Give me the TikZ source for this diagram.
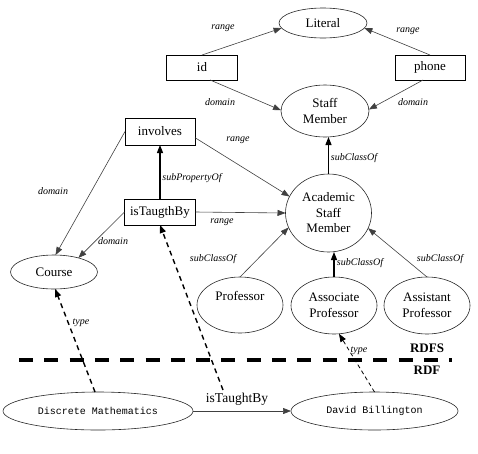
\documentclass[tikz,border=0pt]{standalone}
\usepackage{fontspec}
\setmainfont{Liberation Serif}
\setmonofont{Liberation Mono}
\newfontfamily\tnr{Liberation Serif}
\newfontfamily\cour{Liberation Mono}
\usetikzlibrary{shapes.geometric,arrows.meta}
\begin{document}
\begin{tikzpicture}[x=1pt,y=-1pt,
  every node/.style={inner sep=0pt, outer sep=0pt},
  cls/.style={ellipse, draw=black!85, line width=0.6pt, font=\tnr\fontsize{13}{15.5}\selectfont, align=center},
  prop/.style={rectangle, draw=black, line width=0.7pt, font=\tnr\fontsize{13}{15.5}\selectfont},
  inst/.style={ellipse, draw=black!85, line width=0.6pt, font=\cour\fontsize{10}{12}\selectfont},
  lab/.style={font=\tnr\itshape\fontsize{10}{12}\selectfont},
  tip/.style={-{Triangle[length=8pt,width=6pt]}},
  rel/.style={tip, draw=black!75, line width=0.6pt},
  relb/.style={tip, draw=black, line width=1.2pt},
  typ/.style={tip, draw=black, dash pattern=on 5pt off 4pt, line width=1.4pt},
  typthin/.style={tip, draw=black, dash pattern=on 4pt off 3pt, line width=0.8pt},
  sep/.style={draw=black, line width=4pt, dash pattern=on 14pt off 11.3pt},
  layer/.style={font=\tnr\bfseries\fontsize{13}{15}\selectfont}
]
\useasboundingbox (0,0) rectangle (478,453);

% classes
\node[cls, minimum width=88pt, minimum height=30pt] (lit) at (323,23) {Literal};
\node[cls, minimum width=88pt, minimum height=52pt] (staff) at (325,111) {Staff\\Member};
\node[cls, minimum width=86pt, minimum height=78pt] (acad) at (328.5,213) {Academic\\Staff\\Member};
\node[cls, minimum width=87pt, minimum height=34pt] (course) at (54,272) {Course};
\node[cls, minimum width=86pt, minimum height=56pt, text height=9pt, text depth=18pt] (prof) at (240,305) {Professor};
\node[cls, minimum width=86pt, minimum height=57pt] (assoc) at (334,305.5) {Associate\\Professor};
\node[cls, minimum width=86pt, minimum height=57pt] (assist) at (427,305.5) {Assistant\\Professor};

% properties
\node[prop, minimum width=71pt, minimum height=25pt] (id) at (202,67.5) {id};
\node[prop, minimum width=70pt, minimum height=25pt] (phone) at (430,67.5) {phone};
\node[prop, minimum width=70pt, minimum height=27pt] (involves) at (160,131.5) {involves};
\node[prop, minimum width=71pt, minimum height=26pt] (ist) at (160,212) {isTaugthBy};

% instances
\node[inst, minimum width=190pt, minimum height=38pt] (disc) at (98,411) {Discrete Mathematics};
\node[inst, minimum width=167pt, minimum height=38pt] (david) at (374.5,411) {David Billington};

% edges top
\draw[rel] (id.north) -- (lit.187);
\draw[rel] (phone.north) -- (lit.353);
\draw[rel] (id.-57) -- (staff.179);
\draw[rel] (phone.-119) -- (staff.2);
\draw[relb] (acad.north) -- (acad.north |- staff.south);

\draw[rel] (involves.west) -- (course.85);
\draw[rel] (ist.west) -- (course.30);
\draw[rel] (involves.-10) -- (acad.157);
\draw[rel] (ist.east) -- (acad.west);
\draw[relb] (ist.north) -- (involves.south);

\draw[rel] (prof.north) -- (acad.200);
\draw[relb] (assoc.north) -- (assoc.north |- acad.south);
\draw[rel] (assist.north) -- (acad.339);

% labels
\node[lab] at (223,28) {range};
\node[lab] at (408,31) {range};
\node[lab] at (220,102) {domain};
\node[lab] at (413,102) {domain};
\node[lab] at (354,158) {subClassOf};
\node[lab] at (238,140) {range};
\node[lab] at (53,191) {domain};
\node[lab] at (192,178) {subPropertyOf};
\node[lab] at (222,222) {range};
\node[lab] at (113,241) {domain};
\node[lab] at (213,259) {subClassOf};
\node[lab] at (360,263) {subClassOf};
\node[lab] at (440,259) {subClassOf};
\node[lab] at (81,323) {type};
\node[lab] at (359,351) {type};

% separator
\coordinate (sepL) at (19,360);
\coordinate (sepR) at (452,360);
\draw[sep] (sepL) -- (sepR);
\node[layer] (rdfs) at (427,348) {RDFS};
\node[layer] (rdf) at (427,370) {RDF};

% instance level
\draw[rel] (disc.east) -- (david.west);
\node[font=\tnr\fontsize{13.5}{15}\selectfont] (itb) at (237,399) {isTaughtBy};
\coordinate (tstart) at (223,390);
\draw[typ] (tstart) -- (ist.south);
\draw[typ] ([xshift=-3pt]disc.north) -- (course.-86);
\draw[typthin] (david.north) -- (assoc.-80);
\end{tikzpicture}
\end{document}
